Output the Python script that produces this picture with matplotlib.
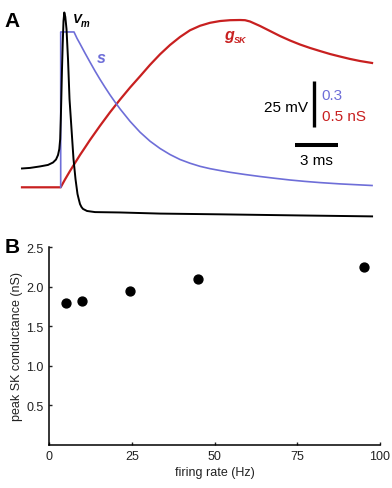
import numpy as np
import matplotlib.pyplot as plt

plt.rcParams['font.family'] = ['Liberation Sans', 'DejaVu Sans']

W, H = 392, 489

# --- panel A: simulated spike, SK gating variable s and SK conductance (time in ms)
vm_t = [0.0, 0.554, 1.247, 1.80, 2.147, 2.355, 2.493, 2.583, 2.645, 2.687, 2.722,
        2.770, 2.819, 2.874, 2.929, 2.999, 3.082, 3.186, 3.290, 3.428, 3.566,
        3.705, 3.843, 3.927, 4.017, 4.120, 4.224, 4.501, 5.055, 6.787, 9.557,
        13.71, 19.25, 24.24]
vm_mv = [-44.5, -44.2, -43.4, -42.6, -41.3, -39.7, -37.3, -34.1, -28.7, -18.0, -7.2,
         8.9, 22.3, 34.6, 39.2, 36.8, 30.3, 14.2, -7.2, -23.3, -39.4,
         -50.2, -58.2, -60.9, -63.6, -65.2, -66.2, -67.3, -67.9, -68.1, -68.7,
         -69.1, -69.7, -70.2]

s_t = [2.680, 2.680, 3.601, 3.809, 4.017, 4.363, 4.709, 5.055, 5.402, 5.748, 6.094,
       6.440, 6.787, 7.479, 8.172, 8.864, 9.557, 10.249, 10.942, 11.634, 12.327,
       13.019, 13.712, 14.404, 15.443, 16.482, 17.521, 18.560, 19.598, 20.637,
       22.022, 24.238]
s_val = [0.0, 1.0, 1.0, 0.959, 0.924, 0.864, 0.806, 0.749, 0.695, 0.644, 0.595,
         0.549, 0.505, 0.425, 0.355, 0.297, 0.250, 0.211, 0.179, 0.155, 0.135,
         0.120, 0.108, 0.0966, 0.0824, 0.0695, 0.0579, 0.0470, 0.0380, 0.0303,
         0.0219, 0.0116]

g_t = [0.0, 2.680, 2.978, 3.324, 3.670, 4.017, 4.363, 4.709, 5.402, 6.094, 6.787,
       7.479, 8.172, 8.864, 9.557, 10.249, 10.942, 11.634, 12.327, 13.019, 13.712,
       14.404, 15.097, 15.443, 15.789, 16.482, 17.175, 17.867, 18.560, 19.252,
       19.945, 20.637, 21.330, 22.022, 22.715, 23.407, 24.238]
g_ns = [0.0, 0.0, 0.084, 0.175, 0.261, 0.347, 0.427, 0.508, 0.660, 0.805, 0.941,
        1.070, 1.191, 1.314, 1.427, 1.527, 1.613, 1.685, 1.733, 1.765, 1.784,
        1.793, 1.795, 1.793, 1.779, 1.731, 1.677, 1.623, 1.575, 1.532,
        1.495, 1.462, 1.430, 1.403, 1.377, 1.355, 1.334]

# --- panel B
rate_hz = [5, 10, 24.5, 45, 95.3]
peak_gsk = [1.79, 1.815, 1.945, 2.10, 2.25]

red = '#c82020'
blue = '#6e6ed8'

# scale bar: 25 mV <-> 0.3 (s) <-> 0.5 nS (g)
base = -54.6
s_scale = 25 / 0.3
g_scale = 25 / 0.5


def fx(x):
    return x / W


def fy(y):
    return 1 - y / H


fig = plt.figure(figsize=(W / 100, H / 100), dpi=100)

# panel A
ax = fig.add_axes([0, fy(230), 1, 230 / H])
ax.plot(g_t, base + np.array(g_ns) * g_scale, color=red, lw=1.6)
ax.plot(s_t, base + np.array(s_val) * s_scale, color=blue, lw=1.2)
ax.plot(vm_t, vm_mv, color='black', lw=1.4)
ax.plot([20.24, 20.24], [-22.4, 2.6], color='black', lw=2.4, solid_capstyle='butt')
ax.plot([18.91, 21.91], [-31.75, -31.75], color='black', lw=2.9, solid_capstyle='butt')
ax.set_xlim(-1.523, 25.62)
ax.set_ylim(-76.97, 46.42)
ax.axis('off')

fig.text(fx(4), fy(26.7), 'A', fontsize=15, fontweight='bold', va='baseline')
fig.text(fx(72.7), fy(23.3), 'V', fontsize=9.5, fontweight='bold', style='italic', va='baseline')
fig.text(fx(80.5), fy(26.7), 'm', fontsize=7, fontweight='bold', style='italic', va='baseline')
fig.text(fx(96.5), fy(63.3), 's', fontsize=11.5, fontweight='bold', style='italic',
         color=blue, va='baseline')
fig.text(fx(224.5), fy(39.7), 'g', fontsize=11.5, fontweight='bold', style='italic',
         color=red, va='baseline')
fig.text(fx(233.5), fy(42.7), 'SK', fontsize=6.5, fontweight='bold', style='italic',
         color=red, va='baseline')
fig.text(fx(308), fy(112), '25 mV', fontsize=11, ha='right', va='baseline')
fig.text(fx(321.7), fy(99.6), '0.3', fontsize=11, color=blue, va='baseline')
fig.text(fx(321.7), fy(121.3), '0.5 nS', fontsize=11, color=red, va='baseline')
fig.text(fx(316.7), fy(165.3), '3 ms', fontsize=11, ha='center', va='baseline')

# panel B
axb = fig.add_axes([fx(49), fy(445.7), (380 - 49) / W, (445.7 - 248.3) / H])
axb.plot(rate_hz, peak_gsk, 'o', color='black', ms=6.4)
axb.set_xlim(0, 100)
axb.set_ylim(0, 2.5)
axb.set_xticks([0, 25, 50, 75, 100])
axb.set_yticks([0.5, 1.0, 1.5, 2.0, 2.5])
axb.set_yticklabels(['0.5', '1.0', '1.5', '2.0', '2.5'])
axb.spines['top'].set_visible(False)
axb.spines['right'].set_visible(False)
for sp in ('left', 'bottom'):
    axb.spines[sp].set_linewidth(1.1)
axb.tick_params(direction='in', length=2.5, width=1, labelsize=9, colors='#222222', pad=4)
axb.set_xlabel('firing rate (Hz)', fontsize=9, color='#222222', labelpad=3)
axb.set_ylabel('peak SK conductance (nS)', fontsize=9, color='#222222', labelpad=2)
fig.text(fx(5), fy(253.3), 'B', fontsize=15, fontweight='bold', va='baseline')

fig.savefig('out.png', dpi=100)
